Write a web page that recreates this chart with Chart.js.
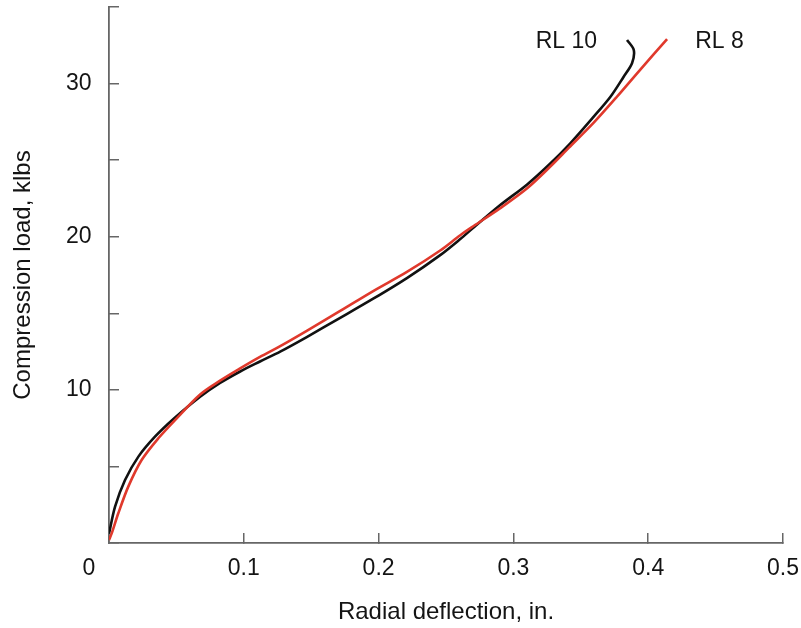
<!DOCTYPE html>
<html>
<head>
<meta charset="utf-8">
<script src="https://cdn.jsdelivr.net/npm/chart.js@4.4.1/dist/chart.umd.min.js"></script>
<style>
  html, body { margin: 0; padding: 0; background: #fff; }
  canvas { display: block; }
</style>
</head>
<body>
<canvas id="c" width="801" height="628"></canvas>
<script>
// ---- data ----
const rl8X = [0, 0.002, 0.0069, 0.0143, 0.0242, 0.0366, 0.049, 0.0676, 0.0824, 0.0973, 0.112, 0.127, 0.1467, 0.1715, 0.196, 0.221, 0.2457, 0.2606, 0.2705, 0.290, 0.310, 0.327, 0.341, 0.3596, 0.3768, 0.394, 0.414];
const rl8Y = [0.2, 0.63, 1.94, 3.68, 5.42, 6.84, 8.03, 9.7, 10.6, 11.4, 12.15, 12.85, 13.85, 15.15, 16.45, 17.7, 19.1, 20.1, 20.7, 21.85, 23.15, 24.55, 25.8, 27.45, 29.14, 30.9, 32.9];

const rl10X = [0, 0.0045, 0.0119, 0.0218, 0.0341, 0.0478, 0.0676, 0.0824, 0.0973, 0.112, 0.127, 0.1467, 0.1715, 0.196, 0.221, 0.2457, 0.2606, 0.2705, 0.290, 0.310, 0.327, 0.3422, 0.3596, 0.372, 0.3818, 0.388, 0.3893, 0.3843];
const rl10Y = [0.6, 2.37, 4.11, 5.64, 6.94, 8.1, 9.55, 10.45, 11.2, 11.85, 12.5, 13.45, 14.7, 15.95, 17.3, 18.8, 19.85, 20.6, 22.05, 23.4, 24.75, 26.1, 27.84, 29.14, 30.45, 31.33, 32.19, 32.85];

const yLabelled = [10, 20, 30];
const seriesNames = ['RL 8', 'RL 10'];
const seriesLabelX = [0.4529, 0.3393];
const seriesLabelY = [32.73, 32.73];
const originLabel = '0';

const FONT = '"Liberation Sans", Arial, Helvetica, sans-serif';
const TEXT = '#141414';
const AXIS = '#666666';

const toPts = (xs, ys) => xs.map((x, i) => ({ x: x, y: ys[i] }));

const annotate = {
  id: 'annotate',
  afterDatasetsDraw(chart) {
    const { ctx, scales: { x, y }, chartArea } = chart;
    ctx.save();
    ctx.fillStyle = TEXT;
    ctx.font = '23px ' + FONT;
    ctx.textAlign = 'center';
    ctx.textBaseline = 'middle';
    for (let i = 0; i < seriesNames.length; i++) {
      ctx.fillText(seriesNames[i], x.getPixelForValue(seriesLabelX[i]), y.getPixelForValue(seriesLabelY[i]));
    }
    ctx.fillText(originLabel, x.getPixelForValue(0) - 20, chartArea.bottom + 25.5);
    ctx.restore();
  }
};

new Chart(document.getElementById('c'), {
  type: 'scatter',
  data: {
    datasets: [
      { label: seriesNames[0], data: toPts(rl8X, rl8Y), showLine: true, borderColor: '#e0392c', borderWidth: 2.6, pointRadius: 0, tension: 0.3, fill: false },
      { label: seriesNames[1], data: toPts(rl10X, rl10Y), showLine: true, borderColor: '#111111', borderWidth: 2.6, pointRadius: 0, tension: 0.3, fill: false }
    ]
  },
  options: {
    responsive: false,
    animation: false,
    layout: { padding: { top: 7, right: 18, left: 0, bottom: 0 } },
    plugins: { legend: { display: false }, tooltip: { enabled: false } },
    scales: {
      x: {
        type: 'linear', min: 0, max: 0.5,
        ticks: {
          stepSize: 0.1, color: TEXT, padding: 22, maxRotation: 0, autoSkip: false,
          font: { family: FONT, size: 23 },
          callback: v => (Math.abs(v) < 1e-9 ? '' : Number(v).toFixed(1))
        },
        grid: { drawOnChartArea: false, tickLength: -10, color: AXIS, lineWidth: 1.5 },
        border: { color: AXIS, width: 1.8 },
        title: { display: true, text: 'Radial deflection, in.', color: TEXT, font: { family: FONT, size: 24 }, padding: { top: 0, bottom: 1 } },
        afterFit: s => { s.height = 85; s.paddingLeft = 0; s.paddingRight = 0; }
      },
      y: {
        type: 'linear', min: 0, max: 35,
        ticks: {
          stepSize: 5, color: TEXT, padding: 27.5, autoSkip: false,
          font: { family: FONT, size: 23 },
          callback: v => (yLabelled.includes(Math.round(v)) ? String(Math.round(v)) : '')
        },
        grid: { drawOnChartArea: false, tickLength: -10, color: AXIS, lineWidth: 1.5 },
        border: { color: AXIS, width: 1.8 },
        title: { display: true, text: 'Compression load, klbs', color: TEXT, font: { family: FONT, size: 24 }, padding: { top: 9, bottom: 0 } },
        afterFit: s => { s.width = 109; s.paddingTop = 0; s.paddingBottom = 0; }
      }
    }
  },
  plugins: [annotate]
});
</script>
</body>
</html>
